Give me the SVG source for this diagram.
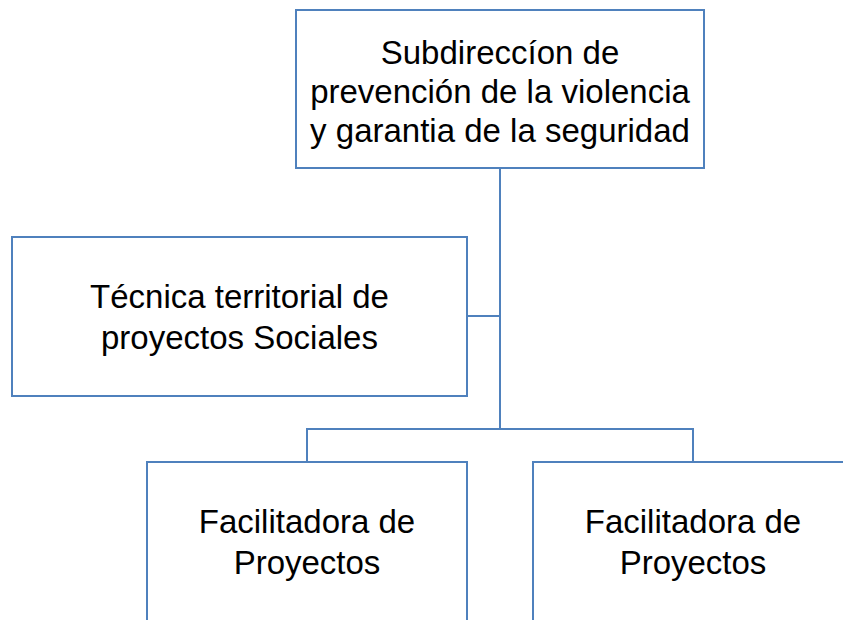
<svg xmlns="http://www.w3.org/2000/svg" width="843" height="620" viewBox="0 0 843 620">
<style>
.box{fill:#fff;stroke:#4F81BD;stroke-width:2}
.con{fill:none;stroke:#4F81BD;stroke-width:2}
text{font-family:"Liberation Sans",Arial,sans-serif;font-size:33px;fill:#000;text-anchor:middle}
</style>
<rect width="843" height="620" fill="#fff"/>
<g id="connectors">
<path class="con" d="M500 168V429M467 316H500M307 462V429H693V462"/>
</g>
<g id="n-sub">
<rect class="box" x="296" y="10" width="408" height="158"/>
<text x="500" y="64">Subdireccíon de</text>
<text x="500" y="103">prevención de la violencia</text>
<text x="500" y="142">y garantia de la seguridad</text>
</g>
<g id="n-tecnica">
<rect class="box" x="12" y="237" width="455" height="159"/>
<text x="239.5" y="308">Técnica territorial de</text>
<text x="239.5" y="349">proyectos Sociales</text>
</g>
<g id="n-fac1">
<rect class="box" x="147" y="462" width="320" height="170"/>
<text x="307" y="533">Facilitadora de</text>
<text x="307" y="574">Proyectos</text>
</g>
<g id="n-fac2">
<rect class="box" x="533" y="462" width="320" height="170"/>
<text x="693" y="533">Facilitadora de</text>
<text x="693" y="574">Proyectos</text>
</g>
</svg>
